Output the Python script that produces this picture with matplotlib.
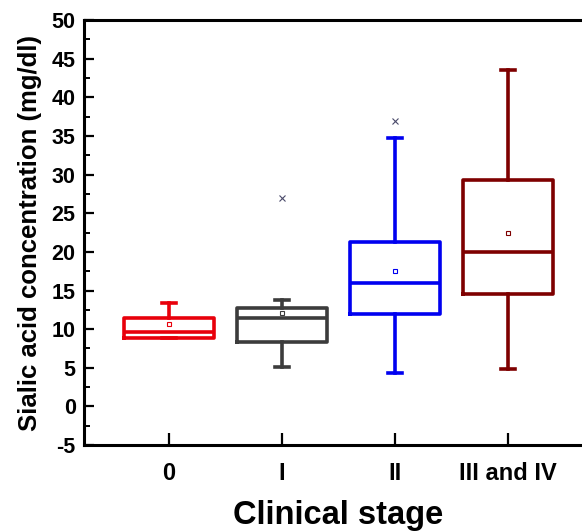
import matplotlib
matplotlib.use("Agg")
import matplotlib.pyplot as plt
from matplotlib.ticker import MultipleLocator

plt.rcParams["font.family"] = ["Liberation Sans", "DejaVu Sans"]
plt.rcParams["font.weight"] = "bold"
plt.rcParams["axes.unicode_minus"] = False

# (mg/dl)
stages = ["0", "I", "II", "III and IV"]
whisker_low = [8.8, 5.1, 4.3, 4.8]
q1 = [8.9, 8.3, 12.0, 14.6]
median = [9.6, 11.4, 16.0, 20.0]
q3 = [11.5, 12.7, 21.3, 29.3]
whisker_high = [13.4, 13.8, 34.8, 43.6]
means = [10.7, 12.1, 17.5, 22.5]
outliers = [[], [27.0], [36.9], []]
colors = ["#E8000B", "#3C3C3C", "#0000F0", "#7E0000"]

stats = []
for i, name in enumerate(stages):
    stats.append({
        "label": name, "whislo": whisker_low[i], "q1": q1[i], "med": median[i],
        "q3": q3[i], "whishi": whisker_high[i], "mean": means[i], "fliers": outliers[i],
    })

fig = plt.figure(figsize=(5.82, 5.31), dpi=100)
ax = fig.add_axes([0.1443, 0.162, 0.874, 0.800])

pos = list(range(1, len(stages) + 1))
for i, st in enumerate(stats):
    c = colors[i]
    ax.bxp([st], positions=[pos[i]], widths=0.8, showmeans=True, showfliers=True,
           boxprops=dict(color=c, lw=2.6),
           medianprops=dict(color=c, lw=2.6),
           whiskerprops=dict(color=c, lw=2.6),
           capprops=dict(color=c, lw=2.6),
           capwidths=0.12,
           meanprops=dict(marker="s", markersize=3.5, markerfacecolor="none",
                          markeredgecolor=c, markeredgewidth=0.8),
           flierprops=dict(marker="x", markersize=4, markeredgecolor="#4a4a6a",
                           markeredgewidth=0.8))

ax.set_xlim(0.25, 4.75)
ax.set_ylim(-5, 50)
ax.yaxis.set_major_locator(MultipleLocator(5))
ax.yaxis.set_minor_locator(MultipleLocator(2.5))
ax.set_xticks(pos)
ax.set_xticklabels(stages)

for s in ["left", "bottom", "top"]:
    ax.spines[s].set_linewidth(2.2)
ax.spines["right"].set_visible(False)

ax.tick_params(axis="y", which="major", direction="in", length=7, width=1.6,
               labelsize=15.5, pad=6)
ax.tick_params(axis="y", which="minor", direction="in", length=4, width=1.4)
ax.tick_params(axis="x", which="major", direction="in", length=9, width=1.6,
               labelsize=17, pad=12)
ax.tick_params(top=False, right=False, which="both")

ax.set_xlabel("Clinical stage", fontsize=23.5, fontweight="bold", labelpad=11)
ax.set_ylabel("Sialic acid concentration (mg/dl)", fontsize=18.5, fontweight="bold",
              labelpad=7)

fig.savefig("out.png", dpi=100)
